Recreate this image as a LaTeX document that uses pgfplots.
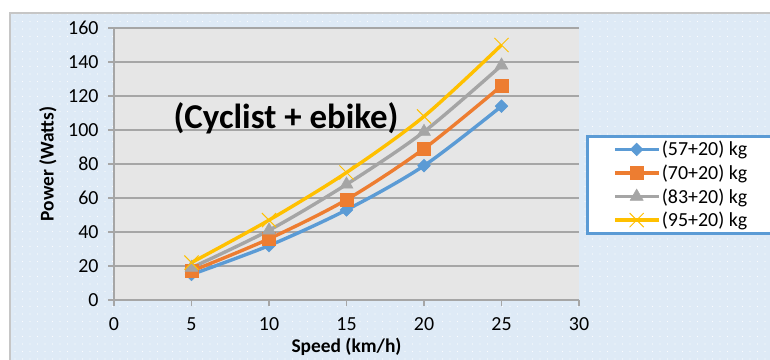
\documentclass[border=0pt]{standalone}
\usepackage{pgfplots}
\pgfplotsset{compat=1.18}
\usepackage{fontspec}
\setmainfont{Carlito}
\usetikzlibrary{patterns.meta}

\definecolor{cBlue}{HTML}{5B9BD5}
\definecolor{cOrange}{HTML}{ED7D31}
\definecolor{cGray}{HTML}{A5A5A5}
\definecolor{cYellow}{HTML}{FFC000}
\definecolor{chartbg}{HTML}{DEEAF6}
\definecolor{plotbg}{HTML}{E6E6E6}
\definecolor{gridc}{HTML}{A6A6A6}
\definecolor{frame}{HTML}{C6C6C6}

\pgfplotstableread{
speed p57 p70 p83 p95
5   15  17  19  22
10  32  36  41  47
15  53  59  68  75
20  79  89  99  108
25  114 126 138 150
}\powerdata

\begin{document}
\begin{tikzpicture}[x=1bp,y=1bp]
\path[use as bounding box] (0,0) rectangle (770,359);
\clip (0,0) rectangle (770,359);
\fill[white] (0,0) rectangle (770,359);
% chart area with dotted texture
\fill[chartbg] (10,-5) rectangle (780,346);
\fill[pattern={Dots[distance=7.5bp, radius=0.6bp]}, pattern color=white!90!chartbg] (10,-5) rectangle (780,346);
\draw[frame, line width=1.5bp] (10,-5) -- (10,346) -- (780,346);

\begin{axis}[
  at={(114bp,59bp)}, anchor=south west,
  scale only axis, width=465bp, height=272bp,
  xmin=0, xmax=30, ymin=0, ymax=160,
  xtick={0,5,...,30}, ytick={0,20,...,160},
  axis lines*=left,
  axis background/.style={fill=plotbg},
  axis line style={gridc, line width=1.2bp},
  ymajorgrids, major grid style={gridc, line width=1.2bp},
  tick style={gridc, line width=1.2bp},
  tick align=outside, major tick length=6bp,
  /pgf/number format/assume math mode=true,
  ticklabel style={font=\fontsize{20}{22}\selectfont, text=black},
  yticklabel style={xshift=-6bp},
  xticklabel style={yshift=-8bp},
  xlabel={Speed (km/h)}, ylabel={Power (Watts)},
  label style={font=\bfseries\fontsize{19.5}{22}\selectfont},
  xlabel style={at={(axis description cs:0.5,-0.172)}, anchor=center},
  ylabel style={at={(axis description cs:-0.142,0.5)}, anchor=center},
  legend style={at={(axis description cs:1.015,0.607)}, anchor=north west,
    draw=cBlue, line width=3bp, fill=white,
    font=\fontsize{20}{22}\selectfont, inner xsep=26bp, inner ysep=3bp,
    row sep=3.5bp},
  legend cell align=left,
  legend image code/.code={\draw[mark repeat=2, mark phase=2, #1]
    plot coordinates {(0bp,0bp) (21.5bp,0bp) (43bp,0bp)};},
  every axis plot/.append style={smooth, line width=3.4bp},
]
\addplot[cBlue, mark=square*, mark size=4.5bp,
  mark options={rotate=45, fill=cBlue, draw=cBlue, line width=0.5bp}]
  table[x=speed, y=p57] {\powerdata};
\addlegendentry{(57+20) kg\hspace*{30bp}}
\addplot[cOrange, mark=square*, mark size=6.5bp,
  mark options={fill=cOrange, draw=cOrange, line width=0.5bp}]
  table[x=speed, y=p70] {\powerdata};
\addlegendentry{(70+20) kg\hspace*{30bp}}
\addplot[cGray, mark=triangle*, mark size=7.5bp,
  mark options={fill=cGray, draw=cGray, line width=0.5bp}]
  table[x=speed, y=p83] {\powerdata};
\addlegendentry{(83+20) kg\hspace*{30bp}}
\addplot[cYellow, mark=x, mark size=10bp,
  mark options={draw=cYellow, line width=1bp}]
  table[x=speed, y=p95] {\powerdata};
\addlegendentry{(95+20) kg\hspace*{30bp}}
\node[font=\bfseries\fontsize{35}{40}\selectfont] at (axis cs:11.1,107) {(Cyclist + ebike)};
\end{axis}
\end{tikzpicture}
\end{document}
